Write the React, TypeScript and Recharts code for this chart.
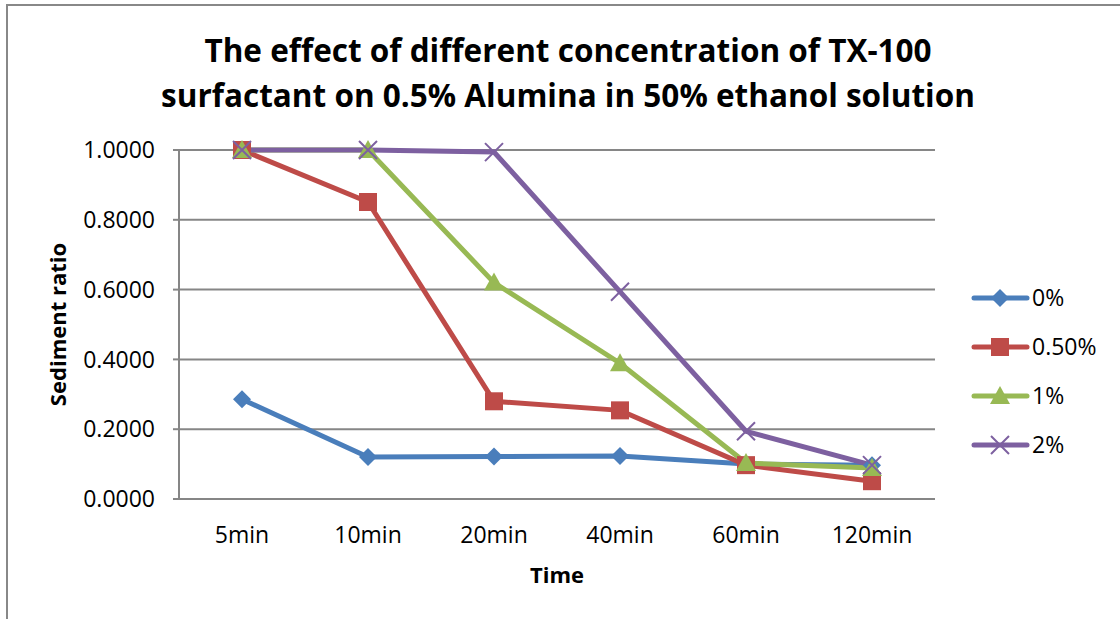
import { LineChart, Line, XAxis, YAxis, CartesianGrid, Label } from 'recharts'

const times = ['5min', '10min', '20min', '40min', '60min', '120min']
const conc0 = [0.2857, 0.12, 0.122, 0.123, 0.1, 0.097]
const conc05 = [1.0, 0.851, 0.28, 0.254, 0.097, 0.051]
const conc1 = [1.0, 1.0, 0.62, 0.389, 0.103, 0.089]
const conc2 = [1.0, 1.0, 0.994, 0.594, 0.194, 0.097]
const yTicks = [0, 0.2, 0.4, 0.6, 0.8, 1.0]

const data = times.map((t, i) => ({
  time: t,
  c0: conc0[i],
  c05: conc05[i],
  c1: conc1[i],
  c2: conc2[i],
}))

const FONT = '"Open Sans", sans-serif'

const series = [
  { key: 'c0', name: '0%', color: '#4a7ebb', shape: 'diamond' },
  { key: 'c05', name: '0.50%', color: '#be4b48', shape: 'square' },
  { key: 'c1', name: '1%', color: '#98b954', shape: 'triangle' },
  { key: 'c2', name: '2%', color: '#7d60a0', shape: 'cross' },
]

function marker(shape: string, color: string, cx: number, cy: number, key?: string) {
  if (shape === 'diamond')
    return <path key={key} d={`M${cx},${cy - 9}L${cx + 9},${cy}L${cx},${cy + 9}L${cx - 9},${cy}Z`} fill={color} />
  if (shape === 'square')
    return <rect key={key} x={cx - 9} y={cy - 9} width={18} height={18} fill={color} />
  if (shape === 'triangle')
    return <path key={key} d={`M${cx},${cy - 10}L${cx + 10},${cy + 8}L${cx - 10},${cy + 8}Z`} fill={color} />
  return (
    <path key={key} d={`M${cx - 9},${cy - 9}L${cx + 9},${cy + 9}M${cx + 9},${cy - 9}L${cx - 9},${cy + 9}`}
      stroke={color} strokeWidth={2} fill="none" />
  )
}

function dotFor(shape: string, color: string) {
  return (p: any) => marker(shape, color, p.cx, p.cy, `${shape}-${p.index}`)
}

export default function App() {
  return (
    <div style={{ position: 'absolute', left: 0, top: 0, width: 1120, height: 619, background: '#fff', overflow: 'hidden', fontFamily: FONT }}>
      <div style={{ position: 'absolute', left: 6, top: 4, width: 1200, height: 700, borderLeft: '2px solid #888', borderTop: '2px solid #888' }} />
      <div style={{ position: 'absolute', left: 0, top: 27, width: 1136, textAlign: 'center', fontWeight: 700, fontSize: 31.5, lineHeight: '45px', color: '#000' }}>
        The effect of different concentration of TX-100<br />
        surfactant on 0.5% Alumina in 50% ethanol solution
      </div>
      <div style={{ position: 'absolute', left: 0, top: 0 }}>
        <LineChart width={1120} height={619} data={data} margin={{ top: 150, right: 185, bottom: 0, left: 0 }}>
          <CartesianGrid vertical={false} stroke="#868686" strokeWidth={2} />
          <XAxis dataKey="time" height={120} padding={{ left: 63, right: 63 }} tickLine={false} tickSize={8} tickMargin={20}
            axisLine={{ stroke: '#868686', strokeWidth: 2 }}
            tick={{ fill: '#000', fontSize: 23, fontFamily: FONT }}>
            <Label value="Time" position="insideBottom" offset={36} style={{ fontWeight: 700, fontSize: 22, fill: '#000', fontFamily: FONT }} />
          </XAxis>
          <YAxis width={179} domain={[0, 1]} ticks={yTicks} tickFormatter={(v: number) => v.toFixed(4)}
            tickSize={6} tickMargin={18} interval={0}
            axisLine={{ stroke: '#868686', strokeWidth: 2 }} tickLine={{ stroke: '#868686', strokeWidth: 2 }}
            tick={{ fill: '#000', fontSize: 23, fontFamily: FONT }}>
            <Label value="Sediment ratio" angle={-90} position="insideLeft" offset={58} style={{ fontWeight: 700, fontSize: 22, fill: '#000', fontFamily: FONT, textAnchor: 'middle' }} />
          </YAxis>
          {series.map((s) => (
            <Line key={s.key} dataKey={s.key} name={s.name} stroke={s.color} strokeWidth={5}
              dot={dotFor(s.shape, s.color)} activeDot={false} isAnimationActive={false} />
          ))}
        </LineChart>
      </div>
      <svg style={{ position: 'absolute', left: 960, top: 270 }} width={160} height={200}>
        {series.map((s, i) => {
          const y = 28 + i * 49
          return (
            <g key={s.key}>
              <line x1={14} y1={y} x2={67} y2={y} stroke={s.color} strokeWidth={5} strokeLinecap="round" />
              {marker(s.shape, s.color, 40, y)}
              <text x={72} y={y + 8} fontSize={23} fontFamily={FONT} fill="#000">{s.name}</text>
            </g>
          )
        })}
      </svg>
    </div>
  )
}
